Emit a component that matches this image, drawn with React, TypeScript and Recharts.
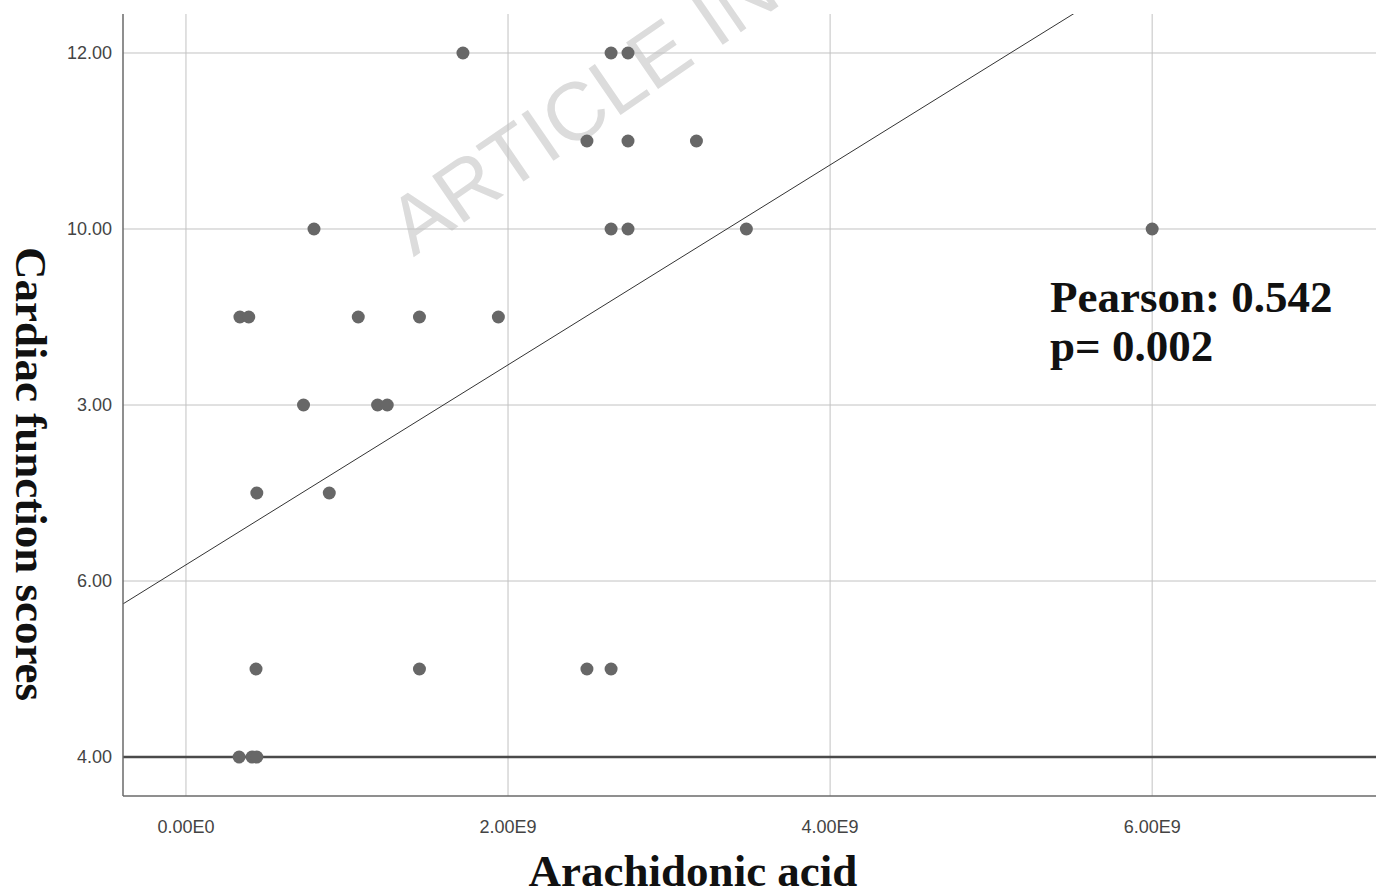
import { ScatterChart, Scatter, XAxis, YAxis, ReferenceLine } from 'recharts';

// paired values
const arachidonicAcid = [
  1.72e9, 2.64e9, 2.745e9,
  2.49e9, 2.745e9, 3.17e9,
  0.795e9, 2.64e9, 2.745e9, 3.48e9, 6.0e9,
  0.335e9, 0.39e9, 1.07e9, 1.45e9, 1.94e9,
  0.73e9, 1.19e9, 1.25e9,
  0.44e9, 0.89e9,
  0.435e9, 1.45e9, 2.49e9, 2.64e9,
  0.33e9, 0.41e9, 0.44e9,
];
const cardiacScores = [
  12, 12, 12,
  11, 11, 11,
  10, 10, 10, 10, 10,
  9, 9, 9, 9, 9,
  8, 8, 8,
  7, 7,
  5, 5, 5, 5,
  4, 4, 4,
];

const xTicks = [0, 2e9, 4e9, 6e9];
const xTickLabels = ['0.00E0', '2.00E9', '4.00E9', '6.00E9'];
const yTicks = [4, 6, 8, 10, 12];
const yTickLabels = ['4.00', '6.00', '3.00', '10.00', '12.00'];

// fit line (intercept, slope per 1e9)
const fitIntercept = 6.184;
const fitSlope = 1.136;

const X_DOMAIN: [number, number] = [-0.391e9, 7.39e9];
const Y_DOMAIN: [number, number] = [3.557, 12.443];

const points = arachidonicAcid.map((x, i) => ({ x, y: cardiacScores[i] }));

const fitSegment = [
  { x: X_DOMAIN[0], y: fitIntercept + fitSlope * (X_DOMAIN[0] / 1e9) },
  { x: X_DOMAIN[1], y: fitIntercept + fitSlope * (X_DOMAIN[1] / 1e9) },
];

const serif = '"Liberation Serif", "Times New Roman", serif';
const sans = '"Liberation Sans", Arial, sans-serif';
const GRID = '#c2c2c2';

const bigText: React.CSSProperties = {
  position: 'absolute',
  fontFamily: serif,
  fontWeight: 'bold',
  fontSize: 45,
  lineHeight: '45px',
  color: '#111',
  whiteSpace: 'nowrap',
};

const Dot = (props: any) => <circle cx={props.cx} cy={props.cy} r={6.5} fill="#676767" />;

export default function App() {
  return (
    <div style={{ position: 'absolute', left: 0, top: 0, width: 1379, height: 895, background: '#fff', overflow: 'hidden' }}>
      {/* watermark */}
      <div
        style={{
          position: 'absolute',
          left: 0,
          top: 0,
          fontFamily: sans,
          fontSize: 82,
          lineHeight: 1,
          color: '#dcdcdc',
          whiteSpace: 'nowrap',
          transformOrigin: '0 0',
          transform: 'translate(414px, 258px) rotate(-34.5deg) translate(0, -70px)',
        }}
      >
        ARTICLE IN PRESS
      </div>

      <div style={{ position: 'absolute', left: 0, top: 0 }}>
        <ScatterChart width={1379} height={895} margin={{ top: 14, right: 3, bottom: 0, left: 0 }}>
          <XAxis
            type="number"
            dataKey="x"
            domain={X_DOMAIN}
            ticks={xTicks}
            allowDataOverflow
            height={99}
            tickSize={0}
            tickMargin={24}
            tickLine={false}
            axisLine={{ stroke: '#6a6a6a', strokeWidth: 1.5 }}
            tick={{ fill: '#444', fontSize: 18, fontFamily: sans }}
            tickFormatter={(v: number) => xTickLabels[xTicks.indexOf(v)] ?? ''}
          />
          <YAxis
            type="number"
            dataKey="y"
            domain={Y_DOMAIN}
            ticks={yTicks}
            allowDataOverflow
            width={123}
            tickSize={0}
            tickMargin={11}
            tickLine={false}
            axisLine={{ stroke: '#6a6a6a', strokeWidth: 1.5 }}
            tick={{ fill: '#444', fontSize: 18, fontFamily: sans }}
            tickFormatter={(v: number) => yTickLabels[yTicks.indexOf(v)] ?? ''}
          />
          {xTicks.map((v) => (
            <ReferenceLine key={`vx-${v}`} x={v} stroke={GRID} strokeWidth={1} />
          ))}
          {yTicks.slice(1).map((v) => (
            <ReferenceLine key={`hy-${v}`} y={v} stroke={GRID} strokeWidth={1} />
          ))}
          <ReferenceLine y={yTicks[0]} stroke="#4a4a4a" strokeWidth={2.5} />
          <ReferenceLine segment={fitSegment} stroke="#333" strokeWidth={1} ifOverflow="hidden" />
          <Scatter data={points} shape={Dot} isAnimationActive={false} />
        </ScatterChart>
      </div>

      <div style={{ ...bigText, left: 30, top: 474, transform: 'translate(-50%, -50%) rotate(90deg)' }}>
        Cardiac function scores
      </div>
      <div style={{ ...bigText, left: 693, top: 849, transform: 'translateX(-50%)' }}>
        Arachidonic acid
      </div>
      <div style={{ ...bigText, left: 1050, top: 275 }}>Pearson: 0.542</div>
      <div style={{ ...bigText, left: 1050, top: 324 }}>p= 0.002</div>
    </div>
  );
}
